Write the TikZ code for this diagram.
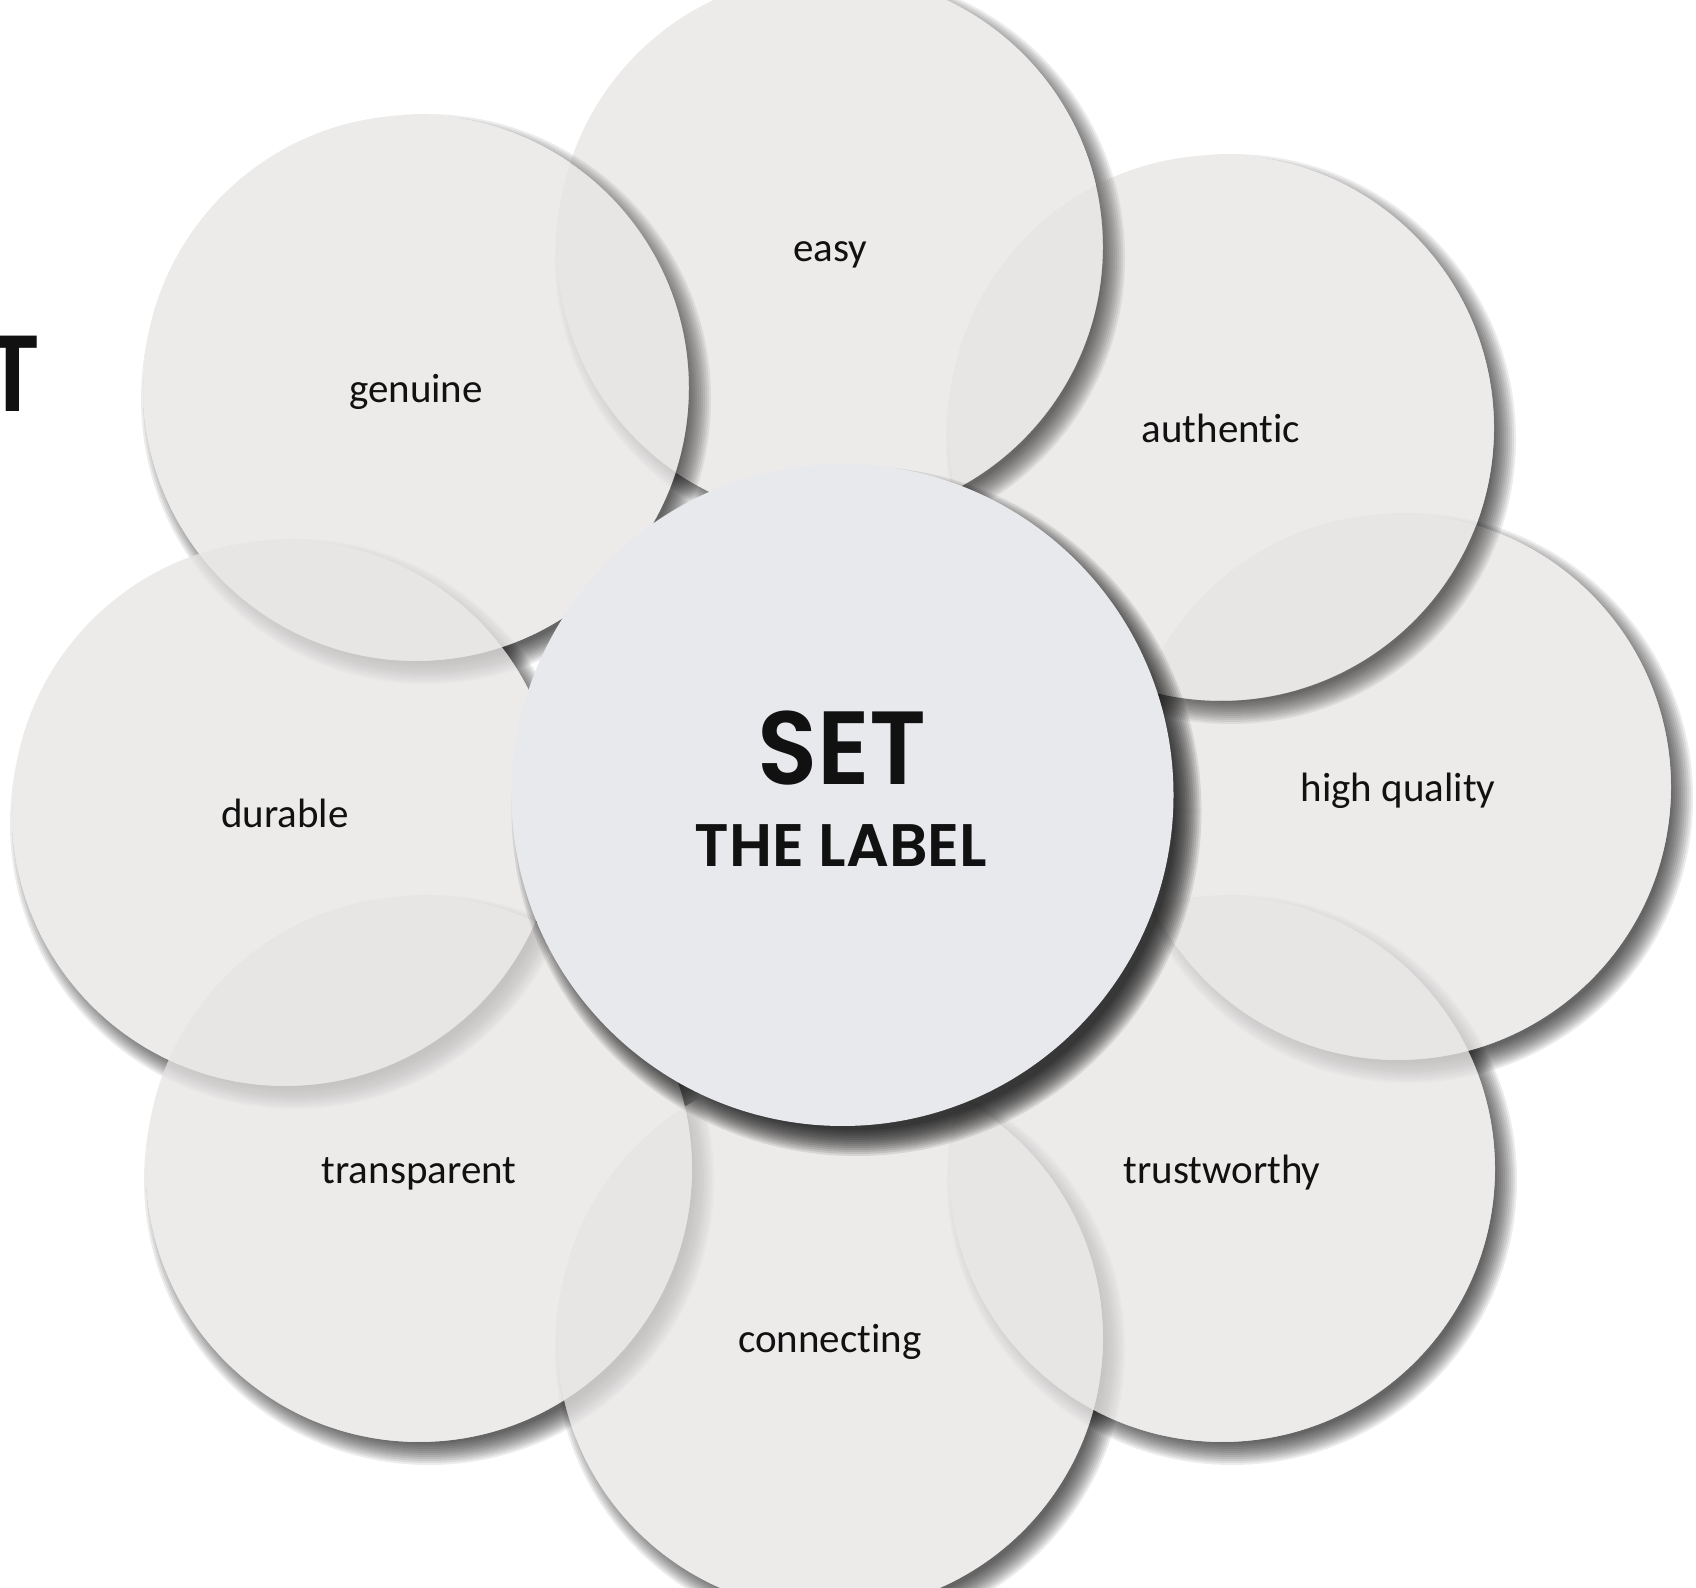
\documentclass[tikz,border=0pt]{standalone}
\usepackage{fontspec}
\setmainfont{Carlito}[Ligatures=NoCommon]
\newfontfamily\geofont{Poppins}[UprightFont={* SemiBold}]
\definecolor{petalfill}{RGB}{230,228,227}
\definecolor{corefill}{RGB}{232,233,237}
\definecolor{ink}{RGB}{17,17,17}
\begin{document}
\begin{tikzpicture}[x=0.5pt,y=0.5pt,
  petal/.style={circle, minimum size=273pt, inner sep=0pt,
    fill=petalfill, fill opacity=0.75, text opacity=1, text=ink,
    text height=14.5pt, text depth=0pt,
    font=\fontsize{20.5}{24}\selectfont},
  core/.style={circle, minimum size=331pt, inner sep=0pt, fill=corefill},
  headline/.style={inner sep=0pt, text=ink, font=\geofont\fontsize{#1}{#1}\selectfont}]

\useasboundingbox (0,0) rectangle (1696,1588);
\clip (0,0) rectangle (1696,1588);

% centres of the eight petals
\foreach \n/\x/\y in {easy/830/1341, genuine/416/1200, authentic/1221/1160,
    high/1398/801, durable/285/775, transparent/419/419,
    trustworthy/1222/419, connecting/830/250}
  \coordinate (c-\n) at (\x,\y);
\coordinate (c-core) at (842.5,793);

% soft drop shadows of the petals, kept outside each petal
\foreach \n in {easy,genuine,authentic,high,durable,transparent,trustworthy,connecting}{
  \begin{scope}[even odd rule]
    \clip (-50,-50) rectangle (1750,1650) (c-\n) circle[radius=136.5pt];
    \foreach \k in {0,...,11}
      \fill[black, fill opacity=0.075] ([shift={(10,-11)}]c-\n) circle[radius={142.5pt-\k*1pt}];
  \end{scope}
}

% petals
\node[petal] (easy)        at (c-easy)        {easy};
\node[petal] (genuine)     at (c-genuine)     {genuine};
\node[petal] (authentic)   at (c-authentic)   {authentic};
\node[petal] (high)        at (c-high)        {high quality};
\node[petal] (durable)     at (c-durable)     {durable};
\node[petal] (transparent) at (c-transparent) {transparent};
\node[petal] (trustworthy) at (c-trustworthy) {trustworthy};
\node[petal] (connecting)  at (c-connecting)  {connecting};

% shadows that lie on top of the neighbouring petal
\foreach \a/\b in {easy/authentic, authentic/high, genuine/easy}{
  \begin{scope}[even odd rule]
    \clip (c-\b) circle[radius=136.5pt];
    \clip (-50,-50) rectangle (1750,1650) (c-\a) circle[radius=136.5pt];
    \foreach \k in {0,...,11}
      \fill[black, fill opacity=0.049] ([shift={(10,-11)}]c-\a) circle[radius={142.5pt-\k*1pt}];
  \end{scope}
}

% shadow of the central disc
\foreach \k in {0,...,13}
  \fill[black, fill opacity=0.095] ([shift={(14,-16)}]c-core) circle[radius={172.5pt-\k*1pt}];

% central disc and its title
\node[core] (core) at (c-core) {};
\node[headline=52, xscale=0.95] (set) at (842,840) {SET};
\node[headline=30] (thelabel) at (841,742) {THE LABEL};

% title letter running in from the left edge
\node[headline=54, anchor=base, xscale=0.88] (edgeT) at (13,1176) {T};
\end{tikzpicture}
\end{document}
